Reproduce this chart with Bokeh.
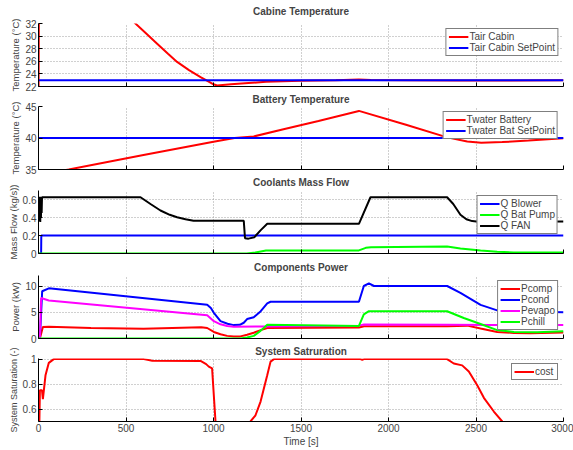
from bokeh.plotting import figure
from bokeh.layouts import column
from bokeh.models import FixedTicker, CustomLabelingPolicy
from bokeh.embed import file_html
from bokeh.resources import INLINE

FONT = "Liberation Sans"

# ---------------- data ----------------
x_ticks = [0, 500, 1000, 1500, 2000, 2500, 3000]

# Cabine temperature
t_cabin = [0, 5, 100, 200, 300, 400, 500, 554, 620, 678, 740, 792, 860, 926, 970, 1000, 1021,
           1100, 1200, 1300, 1497, 1700, 1830, 1900, 2100, 2400, 2700, 3000]
tair_cabin = [20, 53, 48.5, 44.3, 40.4, 36.8, 33.6, 32.0, 30.3, 28.8, 27.2, 25.9, 24.6, 23.5, 22.8,
              22.35, 22.16, 22.35, 22.55, 22.75, 22.9, 22.98, 23.12, 23.02, 23.0, 22.97, 22.97, 22.98]
t_cabin_sp = [0, 3000]
tair_cabin_sp = [23, 23]

# Battery temperature
t_batt = [0, 173, 600, 1000, 1120, 1230, 1400, 1600, 1831, 2100, 2335, 2450, 2530, 2650, 2800, 3000]
twater_batt = [34.1, 35.0, 37.3, 39.4, 40.0, 40.25, 41.4, 42.7, 44.3, 42.1, 40.1, 39.45, 39.25,
               39.35, 39.6, 39.95]
t_batt_sp = [0, 3000]
twater_batt_sp = [40, 40]

# Coolants mass flow
t_blower = [0, 15, 16, 3000]
q_blower = [0, 0, 0.2, 0.2]
t_pump = [0, 1190, 1240, 1300, 1831, 1870, 1900, 2335, 2411, 2526, 2621, 2716, 3000]
q_pump = [0, 0, 0.012, 0.033, 0.034, 0.063, 0.07, 0.078, 0.055, 0.033, 0.019, 0.011, 0.011]
t_fan = [0, 2, 4, 6, 8, 10, 12, 14, 16, 18, 20, 583, 640, 697, 750, 792, 840, 886, 1173, 1180,
         1200, 1233, 1270, 1307, 1831, 1897, 2335, 2370, 2411, 2445, 2478, 2526, 3000]
q_fan = [0.63, 0.36, 0.63, 0.38, 0.63, 0.35, 0.62, 0.40, 0.63, 0.45, 0.625, 0.625, 0.55, 0.478,
         0.43, 0.403, 0.38, 0.363, 0.363, 0.17, 0.165, 0.18, 0.26, 0.33, 0.33, 0.625, 0.625, 0.55,
         0.43, 0.38, 0.36, 0.35, 0.355]

# Components power
t_pcomp = [0, 8, 25, 59, 300, 600, 930, 964, 1002, 1040, 1078, 1116, 1154, 1192, 1230, 1270, 1307,
           1831, 1860, 2335, 2450, 2526, 2621, 2716, 2811, 3000]
pcomp = [0, 0, 2.2, 2.25, 2.0, 1.85, 2.15, 2.0, 1.25, 0.8, 0.5, 0.4, 0.4, 0.7, 1.1, 1.6, 2.0, 2.1,
         2.35, 2.35, 2.45, 1.9, 1.25, 1.05, 1.0, 1.15]
t_pcond = [0, 8, 21, 59, 964, 985, 1002, 1040, 1080, 1116, 1150, 1173, 1192, 1230, 1270, 1307,
           1326, 1831, 1859, 1888, 1917, 2335, 2411, 2526, 2621, 2716, 3000]
pcond = [0, 0, 9.0, 9.55, 6.42, 5.8, 4.9, 3.3, 2.8, 2.55, 2.6, 3.0, 3.7, 4.05, 5.2, 6.7, 7.0, 7.0,
         10.0, 10.5, 10.0, 10.0, 8.7, 6.4, 5.35, 5.2, 5.0]
t_pevapo = [0, 8, 15, 59, 964, 1002, 1040, 1078, 1116, 1300, 1831, 1860, 2335, 2600, 3000]
pevapo = [0, 0, 7.7, 7.25, 4.43, 3.3, 2.7, 2.37, 2.25, 2.3, 2.45, 2.65, 2.6, 2.55, 2.55]
t_pchill = [0, 1154, 1192, 1230, 1270, 1307, 1831, 1859, 1888, 2335, 2430, 2526, 2621, 2716,
            2850, 3000]
pchill = [0, 0, 0.2, 0.5, 1.5, 2.6, 2.4, 4.6, 5.2, 5.2, 3.9, 2.75, 1.6, 1.25, 1.2, 1.4]

# System saturation
t_cost = [0, 5, 8, 20, 25, 40, 59, 87, 602, 650, 926, 958, 973, 992, 1011, 1030, 1211, 1240, 1269,
          1307, 1326, 1345, 1840, 1850, 1860, 2335, 2373, 2421, 2459, 2507, 2545, 2602, 2650,
          2700, 3000]
cost = [0.3, 0.5, 0.75, 0.75, 0.68, 0.87, 0.97, 1.0, 1.0, 0.987, 0.985, 0.96, 0.94, 0.925, 0.51,
        0.3, 0.5, 0.55, 0.66, 0.87, 0.98, 1.0, 1.0, 0.995, 1.0, 1.0, 0.965, 0.95, 0.9, 0.79, 0.69,
        0.58, 0.5, 0.42, 0.3]


# ---------------- figures ----------------
def make_fig(title, ylabel, yr, yticks, overrides, height, top, bottom, standoff, last,
             ylabel_size="9.5px"):
    p = figure(width=573, height=height, x_range=(0, 3000), y_range=yr,
               toolbar_location=None, output_backend="svg",
               min_border_left=38, min_border_right=10, min_border_top=top,
               min_border_bottom=bottom)
    p.title.text = title
    p.title.align = "center"
    p.title.vertical_align = "top"
    p.title.text_font = FONT
    p.title.text_font_size = "10px"
    p.title.text_font_style = "bold"
    p.title.standoff = standoff
    p.outline_line_color = None
    p.background_fill_color = "white"
    p.border_fill_color = "white"
    for ax in (p.xaxis[0], p.yaxis[0]):
        ax.axis_line_color = "black"
        ax.major_tick_in = 4
        ax.major_tick_out = 0
        ax.minor_tick_line_color = None
        ax.major_label_text_font = FONT
        ax.major_label_text_font_size = "10px"
        ax.axis_label_text_font = FONT
        ax.axis_label_text_font_size = "10px"
        ax.axis_label_text_font_style = "normal"
    p.xaxis.ticker = FixedTicker(ticks=x_ticks)
    p.yaxis.ticker = FixedTicker(ticks=yticks)
    p.yaxis.major_label_overrides = overrides
    p.yaxis.axis_label = ylabel
    p.yaxis.axis_label_text_font_size = ylabel_size
    p.yaxis.major_label_standoff = 2
    p.yaxis.axis_label_standoff = 1
    if last:
        p.xaxis.axis_label = "Time [s]"
        p.xaxis.major_label_standoff = 2
        p.xaxis.axis_label_standoff = 1
    else:
        p.xaxis.major_label_text_font_size = "0px"
        p.xaxis.major_label_standoff = 0
        p.xaxis.major_label_policy = CustomLabelingPolicy(
            code="for (const i of indices) { indices.unset(i) }")
    for g in (p.xgrid[0], p.ygrid[0]):
        g.grid_line_color = "#a0a0a0"
        g.grid_line_dash = "1 2"
        g.grid_line_width = 1
    return p


def style_legend(p):
    lg = p.legend[0]
    lg.location = "top_right"
    lg.border_line_color = "black"
    lg.border_line_width = 1
    lg.background_fill_color = "white"
    lg.background_fill_alpha = 1
    lg.label_text_font = FONT
    lg.label_text_font_size = "10px"
    lg.label_height = 11
    lg.glyph_height = 11
    lg.glyph_width = 20
    lg.spacing = 0
    lg.padding = 2
    lg.margin = 5
    lg.label_standoff = 1


LW = 2

p1 = make_fig("Cabine Temperature", "Temperature (°C)", (22, 32), [22, 24, 26, 28, 30, 32],
              {}, 92, 23, 6, 9, False)
p1.line(t_cabin, tair_cabin, color="#ff0000", line_width=LW, legend_label="Tair Cabin")
p1.line(t_cabin_sp, tair_cabin_sp, color="#0000ff", line_width=LW, legend_label="Tair Cabin SetPoint")
style_legend(p1)

p2 = make_fig("Battery Temperature", "Temperature (°C)", (35, 45), [35, 40, 45],
              {}, 83, 14, 6, 0, False)
p2.line(t_batt, twater_batt, color="#ff0000", line_width=LW, legend_label="Twater Battery")
p2.line(t_batt_sp, twater_batt_sp, color="#0000ff", line_width=LW, legend_label="Twater Bat SetPoint")
style_legend(p2)

p3 = make_fig("Coolants Mass Flow", "Mass Flow (kg/s))", (0, 0.7), [0, 0.2, 0.4, 0.6],
              {0: "0", 0.2: "0.2", 0.4: "0.4", 0.6: "0.6"}, 84, 15, 6, 1, False)
p3.line(t_blower, q_blower, color="#0000ff", line_width=LW, legend_label="Q Blower")
p3.line(t_pump, q_pump, color="#00ff00", line_width=LW, legend_label="Q Bat Pump")
p3.line(t_fan, q_fan, color="black", line_width=LW, legend_label="Q FAN")
style_legend(p3)

p4 = make_fig("Components Power", "Power (kW)", (0, 12), [0, 5, 10],
              {}, 85, 16, 6, 2, False)
p4.line(t_pcomp, pcomp, color="#ff0000", line_width=LW, legend_label="Pcomp")
p4.line(t_pcond, pcond, color="#0000ff", line_width=LW, legend_label="Pcond")
p4.line(t_pevapo, pevapo, color="#ff00ff", line_width=LW, legend_label="Pevapo")
p4.line(t_pchill, pchill, color="#00ff00", line_width=LW, legend_label="Pchill")
style_legend(p4)

p5 = make_fig("System Satruration", "System Saturation (-)", (0.5, 1.005), [0.6, 0.8, 1.0],
              {0.6: "0.6", 0.8: "0.8", 1: "1"}, 105, 14, 28, 0, True, ylabel_size="9px")
p5.line(t_cost, cost, color="#ff0000", line_width=LW, legend_label="cost")
style_legend(p5)

layout = column(p1, p2, p3, p4, p5, spacing=0)

open("out.html", "w").write(file_html(layout, INLINE))
